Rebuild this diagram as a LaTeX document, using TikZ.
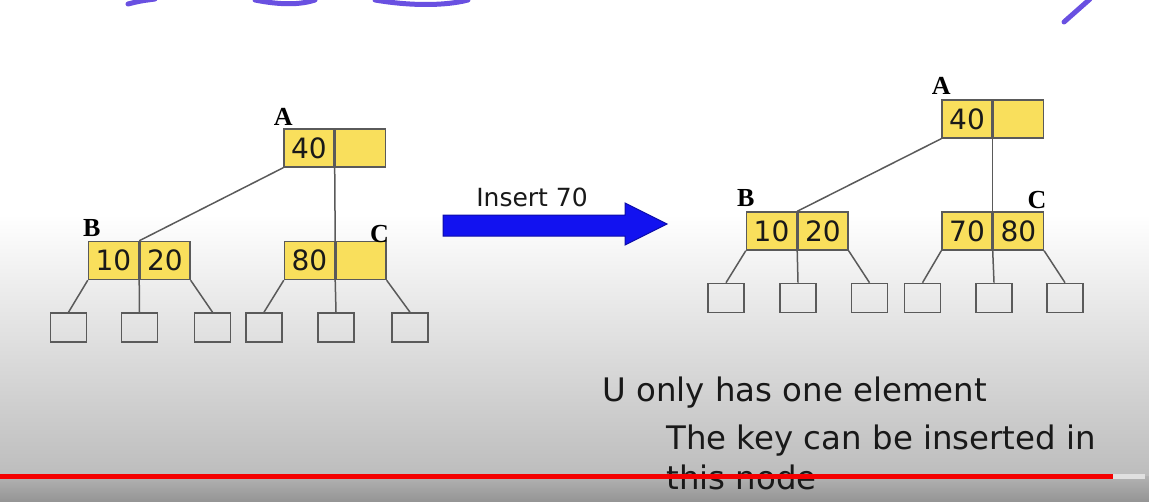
\documentclass[tikz,border=0pt]{standalone}
\usepackage{fontspec}
\setsansfont{DejaVu Sans}
\newfontfamily\tagfont{Liberation Serif}
\usetikzlibrary{positioning}
\definecolor{keyyellow}{RGB}{249,223,92}
\definecolor{edgegray}{RGB}{90,90,90}
\definecolor{arrowblue}{RGB}{18,18,240}
\definecolor{ink}{RGB}{25,25,25}
\definecolor{penviolet}{RGB}{105,80,225}
\definecolor{barred}{RGB}{245,0,0}
\tikzset{
  keycell/.style={draw=edgegray, fill=keyyellow, line width=0.7pt, minimum width=25pt, minimum height=19pt, inner sep=0pt, text=ink, font=\sffamily\fontsize{14}{14}\selectfont},
  leaf/.style={draw=edgegray, line width=0.8pt, minimum width=18pt, minimum height=14.5pt, inner sep=0pt},
  link/.style={draw=edgegray, line width=0.75pt},
  tag/.style={font=\tagfont\bfseries\fontsize{13}{13}\selectfont, inner sep=0pt},
  note/.style={anchor=base west, inner sep=0pt, text=ink, font=\sffamily\fontsize{16.2}{16.2}\selectfont},
  pen/.style={penviolet, line width=2.5pt, line cap=round}
}

\begin{document}
\begin{tikzpicture}[x=0.5pt,y=-0.5pt]
  \useasboundingbox (0,0) rectangle (1149,502);
  % video overlay
  \shade[top color=white,bottom color=black!26] (0,215) rectangle (1149,476);
  \shade[top color=black!30,bottom color=black!42] (0,476) rectangle (1149,502);
  % pen marks at the top
  \draw[pen] (128,4) .. controls (140,1) .. (155,-1);
  \draw[pen] (255,0) .. controls (280,5) and (300,5) .. (315,0);
  \draw[pen] (375,0) .. controls (410,6) and (445,6) .. (468,0);
  \draw[pen] (1064,22) -- (1090,-1);

  % tree before the insertion
  \node[keycell] (la1) at (309,148) {40};
  \node[keycell,right=0pt of la1] (la2) {};
  \node[keycell] (lb1) at (113.5,260.5) {10};
  \node[keycell,right=0pt of lb1] (lb2) {20};
  \node[keycell] (lc1) at (309.5,260.5) {80};
  \node[keycell,right=0pt of lc1] (lc2) {};
  \node[tag,above=1pt of la1.north west] (ta) {A};
  \node[tag,above=2pt of lb1.north west,xshift=2pt] (tb) {B};
  \node[tag,above=-1pt of lc2.north east,xshift=-3.5pt] (tc) {C};
  \foreach \i/\x in {1/68.5,2/139.5,3/212.5,4/264,5/336,6/410}
    \node[leaf] (ll\i) at (\x,327.5) {};
  \draw[link] (la1.south west) -- (lb1.north east);
  \draw[link] (la1.south east) -- (lc1.north east);
  \draw[link] (lb1.south west) -- (ll1.north);
  \draw[link] (lb1.south east) -- (ll2.north);
  \draw[link] (lb2.south east) -- (ll3.north);
  \draw[link] (lc1.south west) -- (ll4.north);
  \draw[link] (lc1.south east) -- (ll5.north);
  \draw[link] (lc2.south east) -- (ll6.north);

  % the operation
  \fill[arrowblue,draw=arrowblue!70!black,line width=0.5pt]
    (443,215) -- (625,215) -- (625,203) -- (667,224) -- (625,245) -- (625,236) -- (443,236) -- cycle;
  \node[font=\sffamily\fontsize{12.5}{12.5}\selectfont,text=ink] (op) at (532,197) {Insert 70};

  % tree after the insertion
  \node[keycell] (ra1) at (967,119) {40};
  \node[keycell,right=0pt of ra1] (ra2) {};
  \node[keycell] (rb1) at (771.5,231) {10};
  \node[keycell,right=0pt of rb1] (rb2) {20};
  \node[keycell] (rc1) at (967,231) {70};
  \node[keycell,right=0pt of rc1] (rc2) {80};
  \node[tag,above=2pt of ra1.north west] (sa) {A};
  \node[tag,above=2pt of rb1.north west] (sb) {B};
  \node[tag,above=1pt of rc2.north east,xshift=-3.5pt] (sc) {C};
  \foreach \i/\x in {1/726,2/798,3/869.5,4/922.5,5/994,6/1065}
    \node[leaf] (rl\i) at (\x,298) {};
  \draw[link] (ra1.south west) -- (rb1.north east);
  \draw[link] (ra1.south east) -- (rc1.north east);
  \draw[link] (rb1.south west) -- (rl1.north);
  \draw[link] (rb1.south east) -- (rl2.north);
  \draw[link] (rb2.south east) -- (rl3.north);
  \draw[link] (rc1.south west) -- (rl4.north);
  \draw[link] (rc1.south east) -- (rl5.north);
  \draw[link] (rc2.south east) -- (rl6.north);

  % remark
  \node[note] (n1) at (602,401) {U only has one element};
  \node[note] (n2) at (666,449) {The key can be inserted in};
  \node[note] (n3) at (666,489) {this node};

  % player progress bar
  \fill[barred] (0,474) rectangle (1113,479);
  \fill[black!12] (1113,474) rectangle (1145,479);
\end{tikzpicture}
\end{document}
